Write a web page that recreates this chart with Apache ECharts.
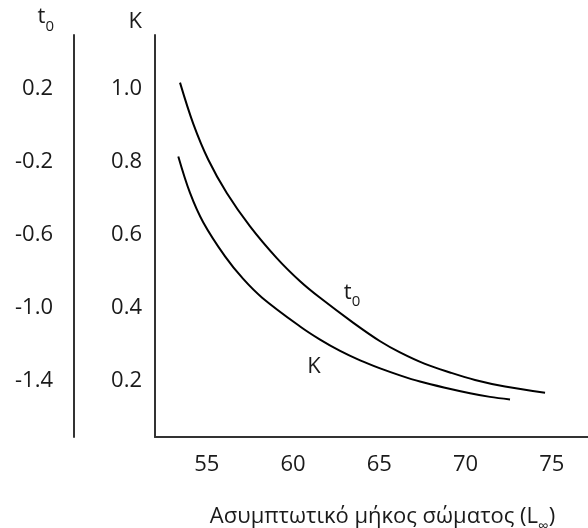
<!DOCTYPE html>
<html>
<head>
<meta charset="utf-8">
<script src="https://cdn.jsdelivr.net/npm/echarts@6/dist/echarts.min.js"></script>
<style>
  html, body { margin: 0; padding: 0; background: #fff; }
  #chart { width: 588px; height: 528px; }
</style>
</head>
<body>
<div id="chart"></div>
<script>
// Asymptotic body length (L∞) against the growth parameters t0 and K
const xTicks = [55, 60, 65, 70, 75];
const kTicks = [0.2, 0.4, 0.6, 0.8, 1.0];
const t0Ticks = [-1.4, -1.0, -0.6, -0.2, 0.2];

// t0 curve (read on the outer left axis)
const lengthT0 = [53.45, 54.22, 55.09, 56.16, 57.51, 59.06, 60.41, 61.57, 63.50, 65.05, 66.20, 67.65, 69.10, 70.55, 72.29, 74.61];
const t0Values = [0.233, 0.007, -0.190, -0.372, -0.555, -0.729, -0.856, -0.947, -1.084, -1.185, -1.246, -1.309, -1.356, -1.397, -1.433, -1.467];

// K curve (read on the inner left axis)
const lengthK = [53.35, 54.03, 54.80, 56.06, 57.10, 58.21, 60.41, 61.57, 62.73, 63.89, 65.05, 66.20, 67.36, 68.81, 70.26, 71.42, 72.58];
const kValues = [0.814, 0.714, 0.633, 0.540, 0.479, 0.427, 0.348, 0.312, 0.281, 0.255, 0.233, 0.214, 0.197, 0.180, 0.165, 0.155, 0.148];

const FONT = 'Open Sans';
const TEXT = '#1a1a1a';
const AXIS = '#333333';
const FS = 22;

const pairs = (xs, ys) => xs.map((x, i) => [x, ys[i]]);

// "t" with a subscript zero
const subRich = {
  t: { fontSize: FS, fontFamily: FONT, color: TEXT, lineHeight: 28, verticalAlign: 'top' },
  s: { fontSize: 15, fontFamily: FONT, color: TEXT, lineHeight: 14, verticalAlign: 'bottom' }
};

const chart = echarts.init(document.getElementById('chart'), null, { renderer: 'canvas' });

const yAxisBase = {
  type: 'value',
  position: 'left',
  axisLine: { show: true, lineStyle: { color: AXIS, width: 2 } },
  axisTick: { show: false },
  splitLine: { show: false },
  nameLocation: 'end'
};

const curveLabel = (coord, formatter, extra) => ({
  symbol: 'circle',
  symbolSize: 1,
  silent: true,
  itemStyle: { color: 'rgba(0,0,0,0)' },
  data: [{
    coord: coord,
    label: Object.assign({ show: true, position: 'inside', formatter: formatter }, extra)
  }]
});

chart.setOption({
  animation: false,
  backgroundColor: '#ffffff',
  textStyle: { fontFamily: FONT, color: TEXT },
  grid: { left: 155, right: 0, top: 35, bottom: 91, containLabel: false, outerBoundsMode: 'none' },
  xAxis: {
    type: 'value',
    min: 52,
    max: 77.1,
    axisLine: { show: true, onZero: false, lineStyle: { color: AXIS, width: 2 } },
    axisTick: { show: false },
    splitLine: { show: false },
    axisLabel: {
      customValues: xTicks,
      fontSize: FS,
      fontFamily: FONT,
      color: TEXT,
      margin: 17
    },
    name: '{a|Ασυμπτωτικό μήκος σώματος (L}{s|∞}{a|)}',
    nameLocation: 'middle',
    nameGap: 69,
    nameTextStyle: {
      padding: [0, 0, 0, 22],
      rich: {
        a: { fontSize: FS, fontFamily: FONT, color: TEXT, lineHeight: 28, verticalAlign: 'top' },
        s: { fontSize: 15, fontFamily: FONT, color: TEXT, lineHeight: 14, verticalAlign: 'bottom' }
      }
    }
  },
  yAxis: [
    Object.assign({}, yAxisBase, {
      min: 0.045,
      max: 1.147,
      offset: 0,
      axisLabel: {
        customValues: kTicks,
        formatter: v => v.toFixed(1),
        fontSize: FS,
        fontFamily: FONT,
        color: TEXT,
        margin: 13
      },
      name: 'K',
      nameGap: 2,
      nameTextStyle: { fontSize: FS, fontFamily: FONT, color: TEXT, align: 'right', padding: [0, 13, 0, 0] }
    }),
    Object.assign({}, yAxisBase, {
      min: -1.71,
      max: 0.494,
      offset: 81,
      axisLabel: {
        customValues: t0Ticks,
        formatter: v => v.toFixed(1),
        fontSize: FS,
        fontFamily: FONT,
        color: TEXT,
        margin: 21
      },
      name: '{t|t}{s|0}',
      nameGap: 1,
      nameTextStyle: { align: 'right', padding: [0, 20, 0, 0], rich: subRich }
    })
  ],
  series: [
    {
      name: 't0',
      type: 'line',
      yAxisIndex: 1,
      data: pairs(lengthT0, t0Values),
      smooth: 0.35,
      showSymbol: false,
      lineStyle: { color: '#000', width: 2 },
      markPoint: curveLabel([63.42, -0.934], '{t|t}{s|0}', { rich: subRich })
    },
    {
      name: 'K',
      type: 'line',
      yAxisIndex: 0,
      data: pairs(lengthK, kValues),
      smooth: 0.35,
      showSymbol: false,
      lineStyle: { color: '#000', width: 2 },
      markPoint: curveLabel([61.22, 0.237], 'K', { fontSize: FS, fontFamily: FONT, color: TEXT })
    }
  ]
});
</script>
</body>
</html>
